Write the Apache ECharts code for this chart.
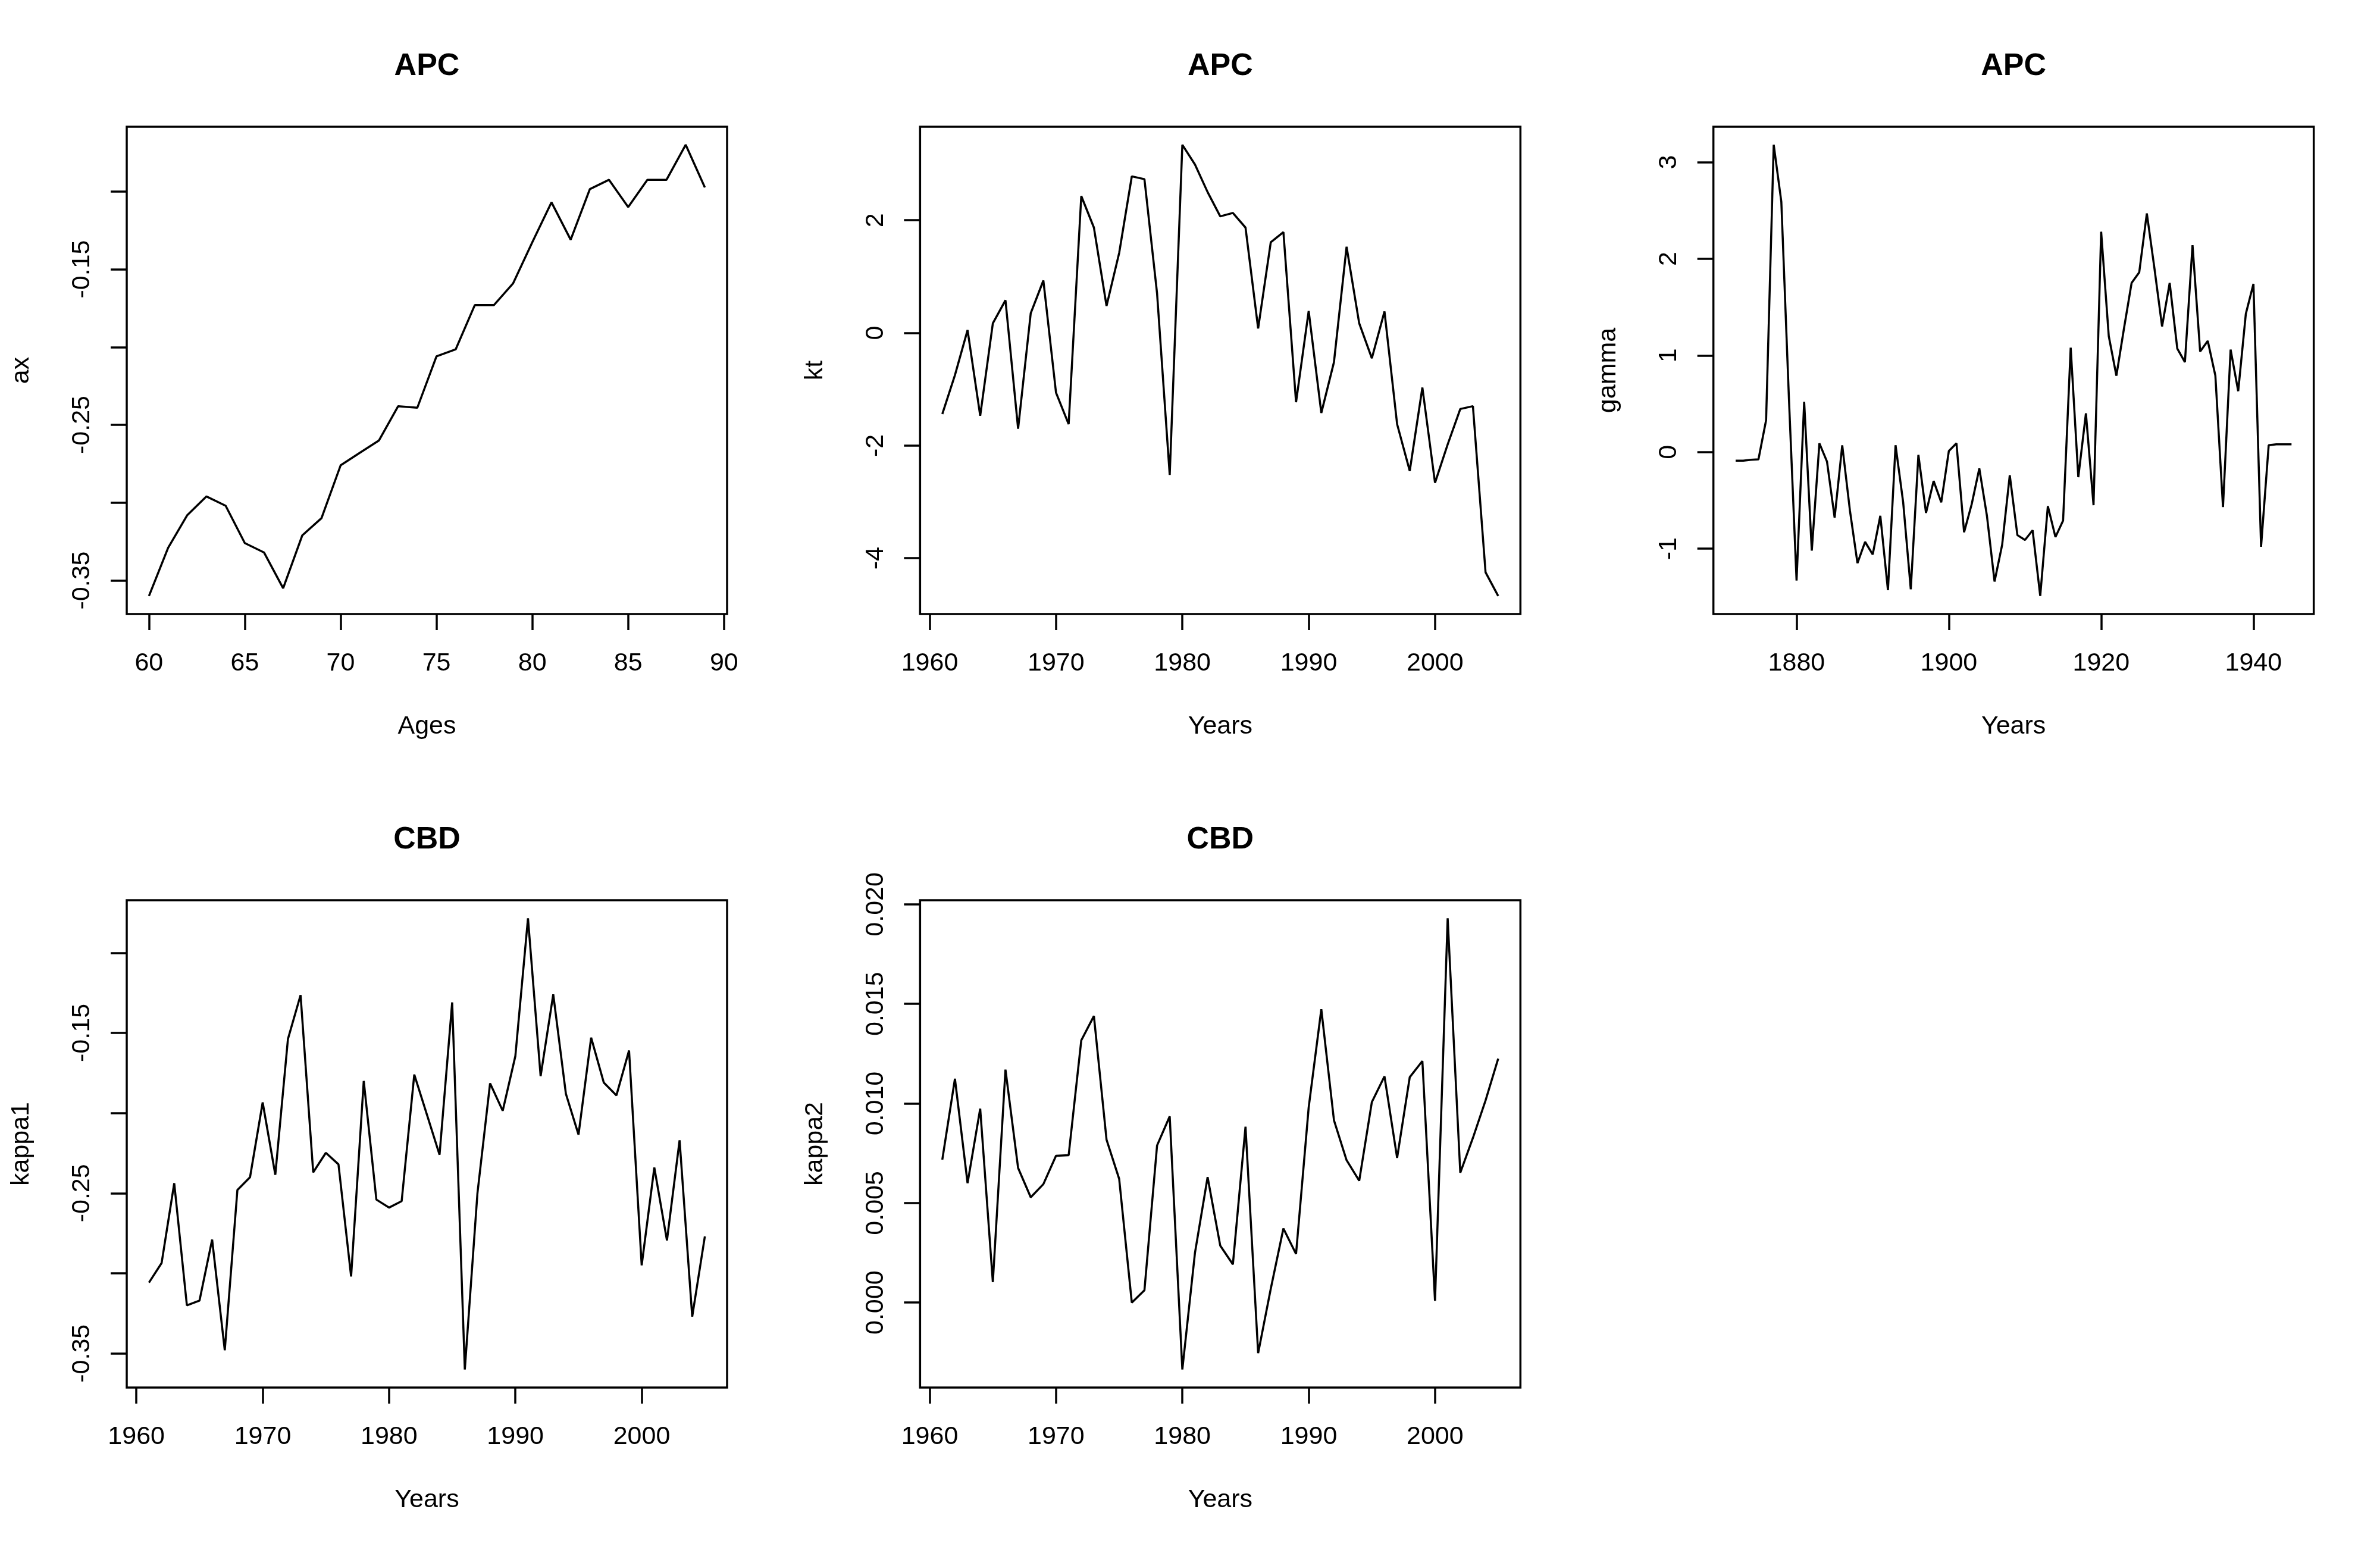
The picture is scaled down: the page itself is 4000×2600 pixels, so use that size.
<!DOCTYPE html>
<html>
<head>
<meta charset="utf-8">
<script src="https://cdn.jsdelivr.net/npm/echarts@6/dist/echarts.min.js"></script>
<style>
html, body { margin: 0; padding: 0; background: #fff; }
#main { width: 4000px; height: 2600px; }
</style>
</head>
<body>
<div id="main"></div>
<script>
// x values
const ages = [60, 61, 62, 63, 64, 65, 66, 67, 68, 69, 70, 71, 72, 73, 74, 75, 76, 77, 78, 79,
  80, 81, 82, 83, 84, 85, 86, 87, 88, 89]
const years = [1961, 1962, 1963, 1964, 1965, 1966, 1967, 1968, 1969, 1970,
  1971, 1972, 1973, 1974, 1975, 1976, 1977, 1978, 1979, 1980,
  1981, 1982, 1983, 1984, 1985, 1986, 1987, 1988, 1989, 1990,
  1991, 1992, 1993, 1994, 1995, 1996, 1997, 1998, 1999, 2000,
  2001, 2002, 2003, 2004, 2005]
const cohorts = [1872, 1873, 1874, 1875, 1876, 1877, 1878, 1879, 1880, 1881,
  1882, 1883, 1884, 1885, 1886, 1887, 1888, 1889, 1890, 1891,
  1892, 1893, 1894, 1895, 1896, 1897, 1898, 1899, 1900, 1901,
  1902, 1903, 1904, 1905, 1906, 1907, 1908, 1909, 1910, 1911,
  1912, 1913, 1914, 1915, 1916, 1917, 1918, 1919, 1920, 1921,
  1922, 1923, 1924, 1925, 1926, 1927, 1928, 1929, 1930, 1931,
  1932, 1933, 1934, 1935, 1936, 1937, 1938, 1939, 1940, 1941,
  1942, 1943, 1944, 1945]

// series values (APC)
const ax = [-0.360, -0.329, -0.308, -0.296, -0.302, -0.326, -0.332, -0.355, -0.321, -0.310,
  -0.276, -0.268, -0.260, -0.238, -0.239, -0.206, -0.2015, -0.173, -0.173, -0.159,
  -0.1326, -0.107, -0.131, -0.0985, -0.0925, -0.110, -0.0925, -0.0925, -0.070, -0.0974]
const kt = [-1.44, -0.75, 0.05, -1.47, 0.17, 0.58, -1.70, 0.35, 0.93, -1.06,
  -1.62, 2.43, 1.87, 0.48, 1.42, 2.78, 2.73, 0.70, -2.52, 3.34,
  2.99, 2.50, 2.07, 2.13, 1.87, 0.08, 1.61, 1.79, -1.23, 0.39,
  -1.42, -0.52, 1.53, 0.17, -0.45, 0.38, -1.62, -2.45, -0.97, -2.66,
  -1.98, -1.35, -1.30, -4.25, -4.67]
const gamma = [-0.09, -0.09, -0.08, -0.075, 0.33, 3.18, 2.59, 0.55, -1.33, 0.52,
  -1.02, 0.09, -0.10, -0.68, 0.07, -0.60, -1.15, -0.93, -1.06, -0.66,
  -1.43, 0.07, -0.52, -1.42, -0.03, -0.63, -0.30, -0.52, 0.01, 0.09,
  -0.83, -0.54, -0.17, -0.66, -1.34, -0.96, -0.24, -0.86, -0.91, -0.81,
  -1.49, -0.56, -0.88, -0.71, 1.08, -0.26, 0.40, -0.55, 2.28, 1.20,
  0.79, 1.28, 1.75, 1.86, 2.47, 1.90, 1.30, 1.75, 1.07, 0.93,
  2.14, 1.04, 1.15, 0.79, -0.57, 1.06, 0.63, 1.43, 1.74, -0.98,
  0.07, 0.08, 0.08, 0.08]

// series values (CBD)
const kappa1 = [-0.3058, -0.2936, -0.2438, -0.320, -0.317, -0.279, -0.348, -0.248, -0.240, -0.1934,
  -0.2385, -0.1538, -0.1264, -0.237, -0.2248, -0.232, -0.302, -0.180, -0.254, -0.259,
  -0.255, -0.176, -0.201, -0.226, -0.131, -0.360, -0.250, -0.1815, -0.1986, -0.1645,
  -0.0785, -0.177, -0.126, -0.188, -0.2135, -0.153, -0.181, -0.189, -0.161, -0.295,
  -0.234, -0.2795, -0.217, -0.327, -0.277]
const kappa2 = [0.00718, 0.01124, 0.00600, 0.00974, 0.00103, 0.0117, 0.00676, 0.00529, 0.00595, 0.00737,
  0.0074, 0.01317, 0.01439, 0.00818, 0.00621, 0.0000, 0.00062, 0.00789, 0.00935, -0.00336,
  0.0025, 0.0063, 0.00286, 0.00192, 0.00883, -0.00254, 0.0007, 0.00372, 0.00244, 0.0098,
  0.01473, 0.00916, 0.00715, 0.00612, 0.01007, 0.01136, 0.00727, 0.01132, 0.01213, 0.00009,
  0.0193, 0.00652, 0.00827, 0.01015, 0.01225]

// tick positions and the labels R kept
const ageTicks = [60, 65, 70, 75, 80, 85, 90]
const yearTicks = [1960, 1970, 1980, 1990, 2000]
const cohortTicks = [1880, 1900, 1920, 1940]
const axTicks = [-0.35, -0.30, -0.25, -0.20, -0.15, -0.10]
const axLabels = [-0.35, -0.25, -0.15]
const ktTicks = [-4, -2, 0, 2]
const gammaTicks = [-1, 0, 1, 2, 3]
const kappa1Ticks = [-0.35, -0.30, -0.25, -0.20, -0.15, -0.10]
const kappa1Labels = [-0.35, -0.25, -0.15]
const kappa2Ticks = [0.000, 0.005, 0.010, 0.015, 0.020]

const FONT = '"Liberation Sans", Arial, Helvetica, sans-serif'
const CELL_W = 4000 / 3
const CELL_H = 1300
const BOX_L = 213
const BOX_T = 213
const BOX_W = 1009
const BOX_H = 819

// R pads the data range by 4% on each side
function padRange (arr) {
  const lo = Math.min(...arr)
  const hi = Math.max(...arr)
  const d = (hi - lo) * 0.04
  return [lo - d, hi + d]
}

const panels = [
  { title: 'APC', x: ages, y: ax, xName: 'Ages', yName: 'ax', xTicks: ageTicks, yTicks: axTicks, yLabels: axLabels, digits: 2 },
  { title: 'APC', x: years, y: kt, xName: 'Years', yName: 'kt', xTicks: yearTicks, yTicks: ktTicks, yLabels: ktTicks, digits: 0 },
  { title: 'APC', x: cohorts, y: gamma, xName: 'Years', yName: 'gamma', xTicks: cohortTicks, yTicks: gammaTicks, yLabels: gammaTicks, digits: 0 },
  { title: 'CBD', x: years, y: kappa1, xName: 'Years', yName: 'kappa1', xTicks: yearTicks, yTicks: kappa1Ticks, yLabels: kappa1Labels, digits: 2 },
  { title: 'CBD', x: years, y: kappa2, xName: 'Years', yName: 'kappa2', xTicks: yearTicks, yTicks: kappa2Ticks, yLabels: kappa2Ticks, digits: 3 }
]

const tickStyle = { color: '#000', width: 3.5 }
const labelStyle = { fontSize: 43, color: '#000', fontFamily: FONT }

const grid = []
const xAxis = []
const yAxis = []
const series = []
const graphic = []

panels.forEach((p, i) => {
  const left = (i % 3) * CELL_W + BOX_L
  const top = Math.floor(i / 3) * CELL_H + BOX_T
  const xr = padRange(p.x)
  const yr = padRange(p.y)

  grid.push({
    left: left, top: top, width: BOX_W, height: BOX_H,
    show: true, borderColor: '#000', borderWidth: 3.5, backgroundColor: 'transparent'
  })

  xAxis.push({
    type: 'value', gridIndex: i, min: xr[0], max: xr[1],
    axisLine: { show: false, onZero: false },
    splitLine: { show: false },
    axisTick: { show: true, inside: false, length: 27, lineStyle: tickStyle, customValues: p.xTicks },
    axisLabel: Object.assign({ margin: 62, customValues: p.xTicks, formatter: v => String(v) }, labelStyle),
    name: p.xName, nameLocation: 'middle', nameGap: 168,
    nameTextStyle: labelStyle
  })

  yAxis.push({
    type: 'value', gridIndex: i, min: yr[0], max: yr[1],
    axisLine: { show: false, onZero: false },
    splitLine: { show: false },
    axisTick: { show: true, inside: false, length: 27, lineStyle: tickStyle, customValues: p.yTicks },
    axisLabel: Object.assign({
      margin: 53, rotate: 90, customValues: p.yLabels,
      formatter: v => (p.digits ? Number(v).toFixed(p.digits) : String(Math.round(v)))
    }, labelStyle),
    name: p.yName, nameLocation: 'middle', nameGap: 155,
    nameTextStyle: labelStyle
  })

  series.push({
    type: 'line', xAxisIndex: i, yAxisIndex: i,
    data: p.x.map((v, k) => [v, p.y[k]]),
    showSymbol: false, symbol: 'none', silent: true,
    lineStyle: { color: '#000', width: 3.5 }
  })

  graphic.push({
    type: 'text', x: left + BOX_W / 2, y: top - 101,
    style: {
      text: p.title, fill: '#000', textAlign: 'center', textVerticalAlign: 'middle',
      font: 'bold 52px ' + FONT
    }
  })
})

const chart = echarts.init(document.getElementById('main'), null, { renderer: 'canvas' })
chart.setOption({
  animation: false,
  backgroundColor: '#fff',
  grid: grid,
  xAxis: xAxis,
  yAxis: yAxis,
  series: series,
  graphic: graphic
})
</script>
</body>
</html>
